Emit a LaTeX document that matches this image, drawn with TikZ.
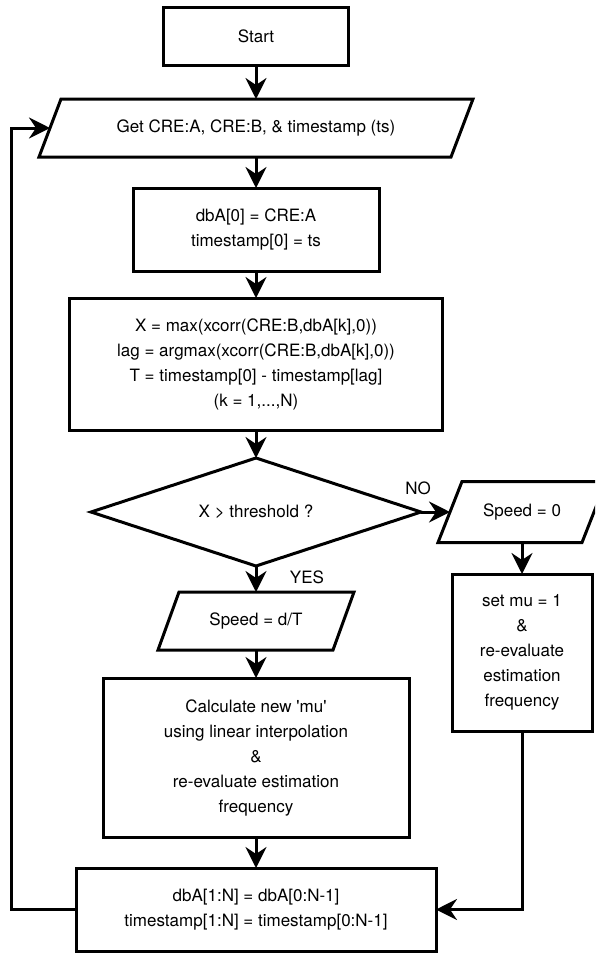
\documentclass[tikz,border=0pt]{standalone}
\usepackage{fontspec}
\setmainfont{TeX Gyre Heros}
\usetikzlibrary{arrows.meta}

\begin{document}
\begin{tikzpicture}[
  x=1pt, y=-1pt,
  line width=3pt,
  >={Stealth[length=21pt,width=21pt,inset=7pt]},
  txt/.style={font=\fontsize{17}{25}\selectfont, align=center, inner sep=0pt, outer sep=0pt},
  procbox/.style={txt, draw, minimum width=#1},
  iobox/.style={txt, minimum width=#1},
  flow/.style={->},
]
\path[use as bounding box] (0,0) rectangle (595,954);
\clip (0,0) rectangle (595,954);

% process boxes
\node[procbox=185, minimum height=58] (start) at (256,36) {Start};
\node[procbox=246, minimum height=83] (dba) at (256,229.5) {dbA[0] = CRE:A\\timestamp[0] = ts};
\node[procbox=373, minimum height=132] (xbox) at (256,364)
  {X = max(xcorr(CRE:B,dbA[k],0))\\lag = argmax(xcorr(CRE:B,dbA[k],0))\\T = timestamp[0] - timestamp[lag]\\(k = 1,...,N)};
\node[procbox=306, minimum height=159] (calc) at (256,757.5)
  {Calculate new \textquotesingle mu\textquotesingle\\using linear interpolation\\\&\\re-evaluate estimation\\frequency};
\node[procbox=360, minimum height=83] (final) at (256,909.5)
  {dbA[1:N] = dbA[0:N-1]\\timestamp[1:N] = timestamp[0:N-1]};
\node[procbox=140, minimum height=157] (setmu) at (522,652.5)
  {set mu = 1\\\&\\re-evaluate\\estimation\\frequency};

% input/output parallelograms (text node + slanted outline)
\node[iobox=412, minimum height=58] (get) at (256,128) {Get CRE:A, CRE:B, \& timestamp (ts)};
\draw ([xshift=11pt]get.north west) -- ([xshift=11pt]get.north east)
   -- ([xshift=-11pt]get.south east) -- ([xshift=-11pt]get.south west) -- cycle;

\node[iobox=175, minimum height=58] (speedT) at (256,621) {Speed = d/T};
\draw ([xshift=10.5pt]speedT.north west) -- ([xshift=10.5pt]speedT.north east)
   -- ([xshift=-10.5pt]speedT.south east) -- ([xshift=-10.5pt]speedT.south west) -- cycle;

\node[iobox=144, minimum height=61] (speed0) at (522,512) {Speed = 0};
\draw ([xshift=12pt]speed0.north west) -- ([xshift=12pt]speed0.north east)
   -- ([xshift=-12pt]speed0.south east) -- ([xshift=-12pt]speed0.south west) -- cycle;

% decision
\node[txt, minimum width=330, minimum height=108] (dec) at (256,512) {X > threshold ?};
\draw (dec.north) -- (dec.east) -- (dec.south) -- (dec.west) -- cycle;

% branch labels
\node[txt] (nolab) at (418,488) {NO};
\node[txt] (yeslab) at (307,577) {YES};

% connectors
\draw[flow] (start.south) -- (get.north);
\draw[flow] (get.south) -- (dba.north);
\draw[flow] (dba.south) -- (xbox.north);
\draw[flow] (xbox.south) -- (dec.north);
\draw[flow] (dec.south) -- (speedT.north);
\draw[flow] (speedT.south) -- (calc.north);
\draw[flow] (calc.south) -- (final.north);
\draw[flow] (dec.east) -- (speed0.west);
\draw[flow] (speed0.south) -- (setmu.north);
\draw[flow] (setmu.south) |- (final.east);
\coordinate (loopcorner) at (11,909.5);
\draw[flow] (final.west) -- (loopcorner) |- (get.west);
\end{tikzpicture}
\end{document}
